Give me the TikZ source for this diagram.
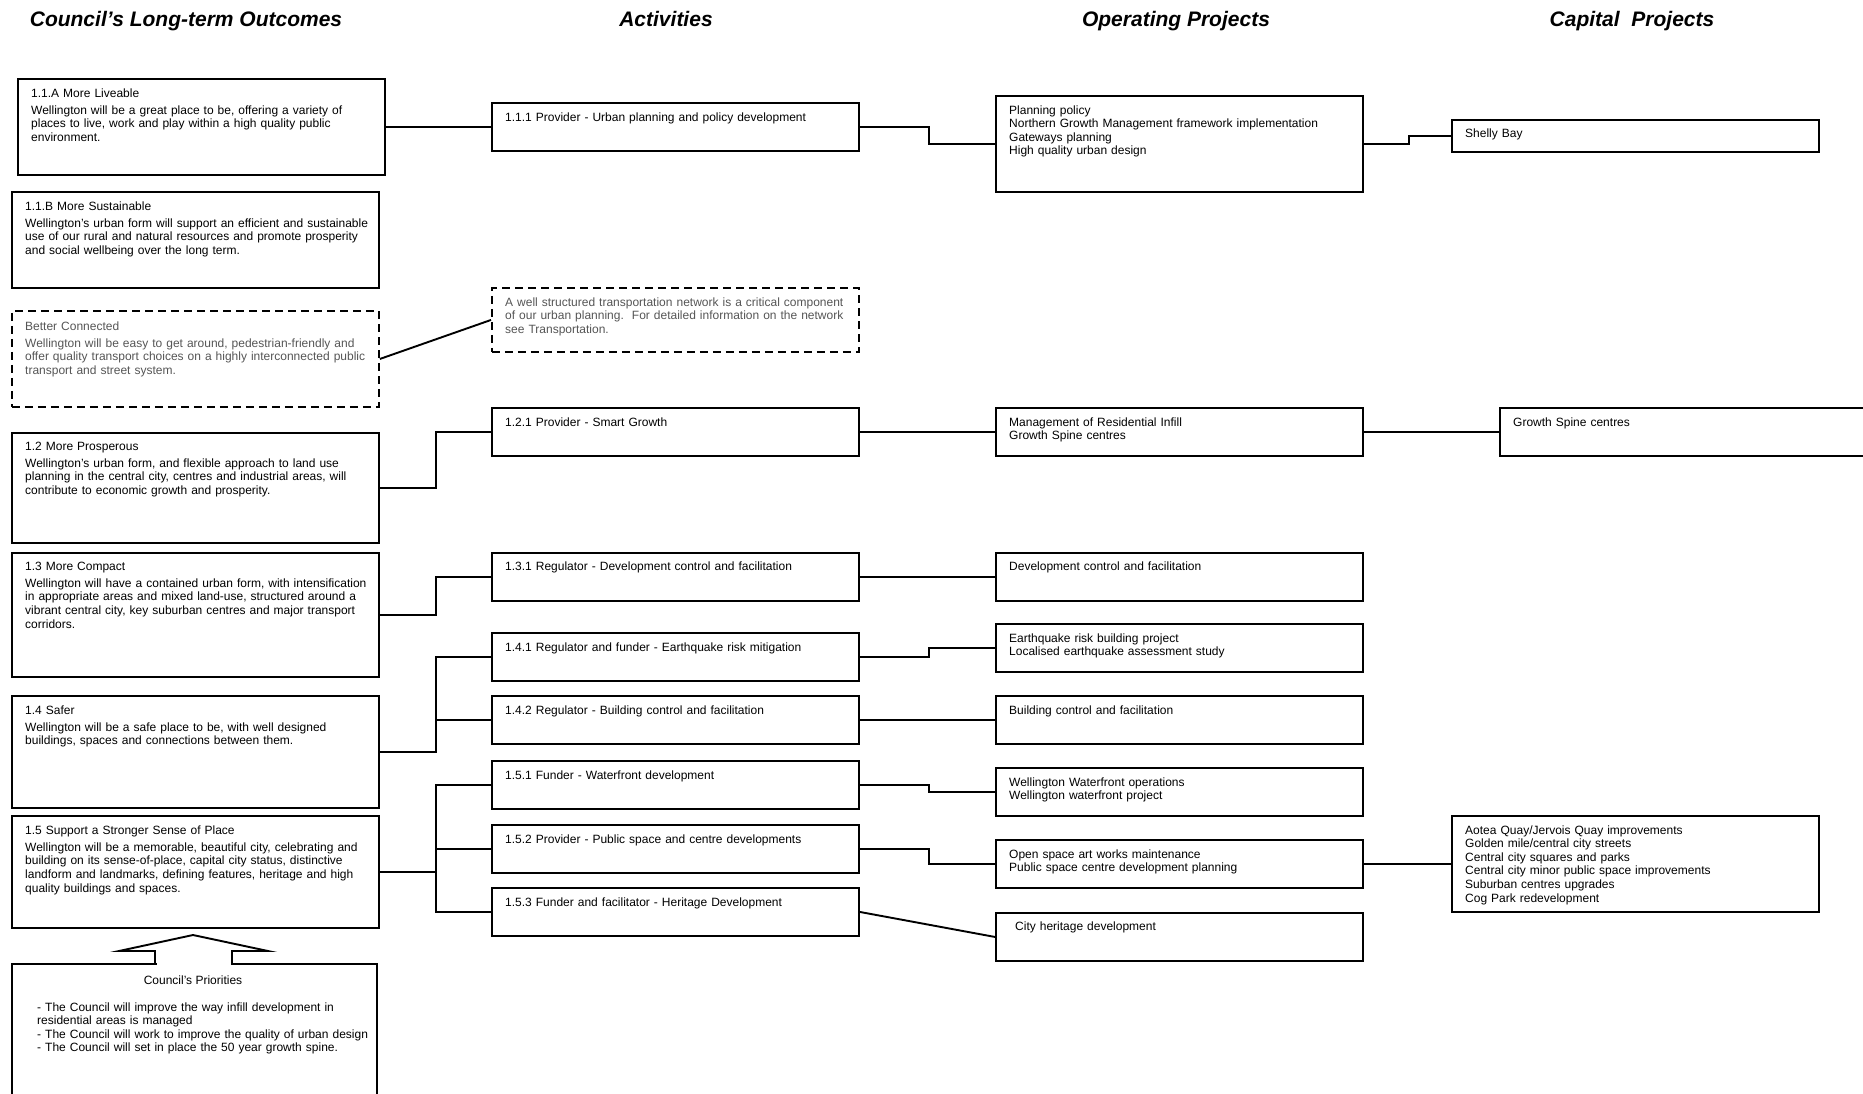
\documentclass[tikz,border=0pt]{standalone}
\usepackage{fontspec}
\setmainfont{Liberation Sans}
\usetikzlibrary{calc}
\definecolor{textgray}{RGB}{85,85,85}
\begin{document}
\begin{tikzpicture}[x=1pt,y=-1pt,
  box/.style={draw, line width=1.9pt, rectangle, inner sep=0pt, anchor=north west},
  dbox/.style={box, dash pattern=on 8pt off 5pt},
  txt/.style={anchor=base west, inner sep=0pt, text width=420pt, align=left, font=\fontsize{12}{13.6}\selectfont},
  gtxt/.style={txt, text=textgray},
  link/.style={line width=1.9pt},
  head/.style={anchor=base, inner sep=0pt, font=\fontsize{21}{24}\selectfont\bfseries\itshape}]
\useasboundingbox (0,0) rectangle (1863,1093);

% headings
\node[head] (h1) at (186,26.5) {Council’s Long-term Outcomes};
\node[head] (h2) at (666,26.5) {Activities};
\node[head] (h3) at (1176,26.5) {Operating Projects};
\node[head] (h4) at (1632,26.5) {Capital\ \ Projects};

% outcome boxes
\node[box, minimum width=367pt, minimum height=96pt] (o11a) at (17,78) {};
\node[box, minimum width=367pt, minimum height=96pt] (o11b) at (11,191) {};
\node[dbox, minimum width=367pt, minimum height=96pt] (obc) at (11,310) {};
\node[box, minimum width=367pt, minimum height=110pt] (o12) at (11,432) {};
\node[box, minimum width=367pt, minimum height=124pt] (o13) at (11,552) {};
\node[box, minimum width=367pt, minimum height=112pt] (o14) at (11,695) {};
\node[box, minimum width=367pt, minimum height=112pt] (o15) at (11,815) {};
\node[box, minimum width=365pt, minimum height=150pt] (prio) at (11,963) {};

% activity boxes
\node[box, minimum width=367pt, minimum height=48pt] (a111) at (491,102) {};
\node[dbox, minimum width=367pt, minimum height=64pt] (atr) at (491,287) {};
\node[box, minimum width=367pt, minimum height=48pt] (a121) at (491,407) {};
\node[box, minimum width=367pt, minimum height=48pt] (a131) at (491,552) {};
\node[box, minimum width=367pt, minimum height=48pt] (a141) at (491,632) {};
\node[box, minimum width=367pt, minimum height=48pt] (a142) at (491,695) {};
\node[box, minimum width=367pt, minimum height=48pt] (a151) at (491,760) {};
\node[box, minimum width=367pt, minimum height=48pt] (a152) at (491,824) {};
\node[box, minimum width=367pt, minimum height=48pt] (a153) at (491,887) {};

% operating project boxes
\node[box, minimum width=367pt, minimum height=96pt] (p1) at (995,95) {};
\node[box, minimum width=367pt, minimum height=48pt] (p2) at (995,407) {};
\node[box, minimum width=367pt, minimum height=48pt] (p3) at (995,552) {};
\node[box, minimum width=367pt, minimum height=48pt] (p4) at (995,623) {};
\node[box, minimum width=367pt, minimum height=48pt] (p5) at (995,695) {};
\node[box, minimum width=367pt, minimum height=48pt] (p6) at (995,767) {};
\node[box, minimum width=367pt, minimum height=48pt] (p7) at (995,839) {};
\node[box, minimum width=367pt, minimum height=48pt] (p8) at (995,912) {};

% capital project boxes
\node[box, minimum width=367pt, minimum height=32pt] (c1) at (1451,119) {};
\node[box, minimum width=400pt, minimum height=48pt] (c2) at (1499,407) {};
\node[box, minimum width=367pt, minimum height=96pt] (c3) at (1451,815) {};

% block arrow from priorities to 1.5
\fill[white] (156.5,960) rectangle (230.5,966);
\draw[line width=1.9pt, line join=miter] (155,963) -- (155,951) -- (119,951) -- (193,935) -- (268,951) -- (232,951) -- (232,963);

% connectors
\draw[link] (o11a.east) -- (a111.west);
\draw[link] (obc.east) -- (atr.west);
\draw[link] (o12.east) -- ++(56,0) |- (a121.west);
\draw[link] (o13.east) -- ++(56,0) |- (a131.west);
\draw[link] (o14.east) -- ++(56,0) |- (a141.west);
\draw[link] (o14.east) -- ++(56,0) |- (a142.west);
\draw[link, line width=2.8pt] (o15.east) -- ++(56,0);
\draw[link] (o15.east) -- ++(56,0) |- (a151.west);
\draw[link] (o15.east) -- ++(56,0) |- (a152.west);
\draw[link] (o15.east) -- ++(56,0) |- (a153.west);
\draw[link] (a111.east) -- ++(69,0) |- (p1.west);
\draw[link] (p1.east) -- ++(45,0) |- (c1.west);
\draw[link] (a121.east) -- (p2.west);
\draw[link] (p2.east) -- (c2.west);
\draw[link] (a131.east) -- (p3.west);
\draw[link] (a141.east) -- ++(69,0) |- (p4.west);
\draw[link] (a142.east) -- (p5.west);
\draw[link] (a151.east) -- ++(69,0) |- (p6.west);
\draw[link] (a152.east) -- ++(69,0) |- (p7.west);
\draw[link] (a153.east) -- (p8.west);
\draw[link] (p7.east) -- (c3.west);

% outcome texts
\node[txt] (t11a) at (31,97) {1.1.A More Liveable\\[3.7pt]
Wellington will be a great place to be, offering a variety of\\
places to live, work and play within a high quality public\\
environment.};
\node[txt] (t11b) at (25,210) {1.1.B More Sustainable\\[3.7pt]
Wellington’s urban form will support an efficient and sustainable\\
use of our rural and natural resources and promote prosperity\\
and social wellbeing over the long term.};
\node[gtxt] (tbc) at (25,330) {Better Connected\\[3.7pt]
Wellington will be easy to get around, pedestrian-friendly and\\
offer quality transport choices on a highly interconnected public\\
transport and street system.};
\node[txt] (t12) at (25,450) {1.2 More Prosperous\\[3.7pt]
Wellington’s urban form, and flexible approach to land use\\
planning in the central city, centres and industrial areas, will\\
contribute to economic growth and prosperity.};
\node[txt] (t13) at (25,570) {1.3 More Compact\\[3.7pt]
Wellington will have a contained urban form, with intensification\\
in appropriate areas and mixed land-use, structured around a\\
vibrant central city, key suburban centres and major transport\\
corridors.};
\node[txt] (t14) at (25,714) {1.4 Safer\\[3.7pt]
Wellington will be a safe place to be, with well designed\\
buildings, spaces and connections between them.};
\node[txt] (t15) at (25,834) {1.5 Support a Stronger Sense of Place\\[3.7pt]
Wellington will be a memorable, beautiful city, celebrating and\\
building on its sense-of-place, capital city status, distinctive\\
landform and landmarks, defining features, heritage and high\\
quality buildings and spaces.};
\node[anchor=base, inner sep=0pt, font=\fontsize{12}{13.6}\selectfont] (tpri) at (193,984) {Council’s Priorities};
\node[txt] (tprib) at (37,1011) {- The Council will improve the way infill development in\\
residential areas is managed\\
- The Council will work to improve the quality of urban design\\
- The Council will set in place the 50 year growth spine.};

% activity texts
\node[txt] (ta111) at (505,121) {1.1.1 Provider - Urban planning and policy development};
\node[gtxt] (tatr) at (505,306) {A well structured transportation network is a critical component\\
of our urban planning.\ \ For detailed information on the network\\
see Transportation.};
\node[txt] (ta121) at (505,426) {1.2.1 Provider - Smart Growth};
\node[txt] (ta131) at (505,570) {1.3.1 Regulator - Development control and facilitation};
\node[txt] (ta141) at (505,651) {1.4.1 Regulator and funder - Earthquake risk mitigation};
\node[txt] (ta142) at (505,714) {1.4.2 Regulator - Building control and facilitation};
\node[txt] (ta151) at (505,779) {1.5.1 Funder - Waterfront development};
\node[txt] (ta152) at (505,843) {1.5.2 Provider - Public space and centre developments};
\node[txt] (ta153) at (505,906) {1.5.3 Funder and facilitator - Heritage Development};

% operating texts
\node[txt] (tp1) at (1009,114) {Planning policy\\
Northern Growth Management framework implementation\\
Gateways planning\\
High quality urban design};
\node[txt] (tp2) at (1009,426) {Management of Residential Infill\\
Growth Spine centres};
\node[txt] (tp3) at (1009,570) {Development control and facilitation};
\node[txt] (tp4) at (1009,642) {Earthquake risk building project\\
Localised earthquake assessment study};
\node[txt] (tp5) at (1009,714) {Building control and facilitation};
\node[txt] (tp6) at (1009,786) {Wellington Waterfront operations\\
Wellington waterfront project};
\node[txt] (tp7) at (1009,858) {Open space art works maintenance\\
Public space centre development planning};
\node[txt] (tp8) at (1015,930) {City heritage development};

% capital texts
\node[txt] (tc1) at (1465,137.5) {Shelly Bay};
\node[txt] (tc2) at (1513,426) {Growth Spine centres};
\node[txt] (tc3) at (1465,834) {Aotea Quay/Jervois Quay improvements\\
Golden mile/central city streets\\
Central city squares and parks\\
Central city minor public space improvements\\
Suburban centres upgrades\\
Cog Park redevelopment};
\end{tikzpicture}
\end{document}
